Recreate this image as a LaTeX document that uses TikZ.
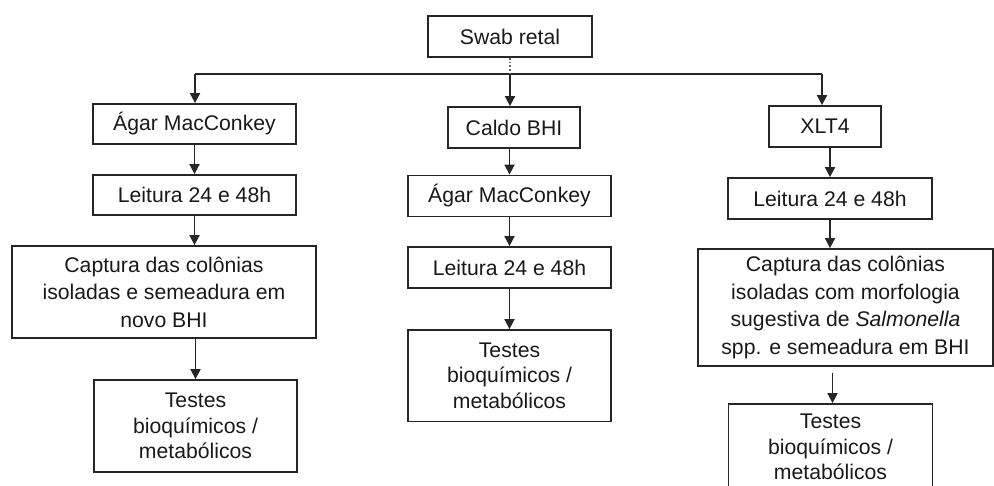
\documentclass[tikz,border=0pt]{standalone}
\usepackage{fontspec}
\setmainfont{Liberation Sans}
\usetikzlibrary{arrows.meta}
\begin{document}
\begin{tikzpicture}[x=0.5pt,y=-0.5pt,
  box/.style={draw=black!85, line width=0.9pt, inner sep=0pt, align=center,
    font=\fontsize{10.6}{13.8}\selectfont, text=black!90},
  tbox/.style={box, font=\fontsize{10.6}{12.9}\selectfont},
  arr/.style={line width=0.9pt, draw=black!85, -{Triangle[length=5pt,width=5pt]}},
  conn/.style={line width=0.9pt, draw=black!85}]
\useasboundingbox (0,0) rectangle (994,486);
\clip (0,0) rectangle (994,486);
% boxes
\node[box, minimum width=82pt, minimum height=20.5pt] (swab) at (510,36.5) {Swab retal};
% left column
\node[box, minimum width=101.5pt, minimum height=20pt] (A1) at (194.5,124) {Ágar MacConkey};
\node[box, minimum width=101.5pt, minimum height=20pt] (L1) at (194.5,195) {Leitura 24 e 48h};
\node[box, minimum width=152pt, minimum height=46pt] (C1) at (164,292) {Captura das colônias\\isoladas e semeadura em\\novo BHI};
\node[tbox, minimum width=101.5pt, minimum height=46pt] (T1) at (195.5,426) {Testes\\bioquímicos /\\metabólicos};
% middle column
\node[box, minimum width=66pt, minimum height=20.5pt] (B2) at (514,127.5) {Caldo BHI};
\node[box, minimum width=101.5pt, minimum height=20.5pt] (A2) at (509.5,196) {Ágar MacConkey};
\node[box, minimum width=101.5pt, minimum height=20.5pt] (L2) at (509.5,267.5) {Leitura 24 e 48h};
\node[tbox, minimum width=101.5pt, minimum height=45.75pt] (T2) at (509.5,375.75) {Testes\\bioquímicos /\\metabólicos};
% right column
\node[box, minimum width=56pt, minimum height=20.5pt] (X3) at (825,126.5) {XLT4};
\node[box, minimum width=102pt, minimum height=20.5pt] (L3) at (830,198.5) {Leitura 24 e 48h};
\node[box, minimum width=147.5pt, minimum height=58.5pt] (C3) at (845.5,307.5) {Captura das colônias\\isoladas com morfologia\\sugestiva de \textit{Salmonella}\\spp. e semeadura em BHI};
\node[tbox, minimum width=102pt, minimum height=43pt] (T3) at (830.5,447) {Testes\\bioquímicos /\\metabólicos};
% junction
\coordinate (jL) at (195,74);
\coordinate (jM) at (510,74);
\coordinate (jR) at (822,74);
\draw[conn] (jL) -- (jR);
\draw[conn, densely dotted, draw=black!60] (swab.south) -- (jM);
\draw[arr] (jM) -- (jM |- B2.north);
\draw[arr] (jL) -- (jL |- A1.north);
\draw[arr] (jR) -- (jR |- X3.north);
% left arrows
\draw[arr] (A1.south) -- (L1.north);
\draw[arr] (L1.south) -- (L1.south |- C1.north);
\draw[arr] (T1.north |- C1.south) -- (T1.north);
% middle arrows
\draw[arr] (A2.north |- B2.south) -- (A2.north);
\draw[arr] (A2.south) -- (L2.north);
\draw[arr] (L2.south) -- (T2.north);
% right arrows
\draw[arr] (L3.north |- X3.south) -- (L3.north);
\draw[arr] (L3.south) -- (L3.south |- C3.north);
\draw[arr, shorten <=3pt] ([xshift=1pt]T3.north |- C3.south) -- ([xshift=1pt]T3.north);
\end{tikzpicture}
\end{document}
